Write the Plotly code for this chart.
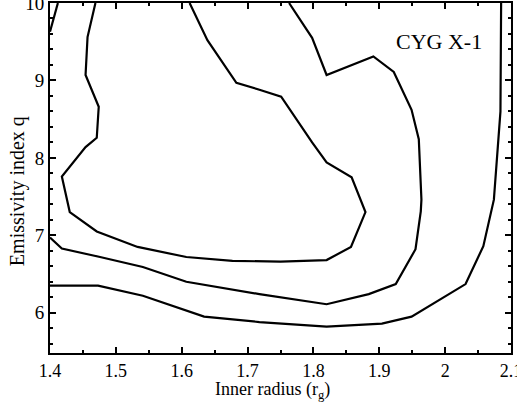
import plotly.graph_objects as go

# Contour data (Inner radius r_g vs emissivity index q)
inner_x = [1.469, 1.457, 1.454, 1.474, 1.471, 1.454, 1.418, 1.430, 1.471, 1.533, 1.607, 1.677, 1.75, 1.82, 1.857, 1.879, 1.858, 1.82, 1.798, 1.751, 1.718, 1.683, 1.639, 1.612]
inner_y = [10.0, 9.56, 9.07, 8.66, 8.26, 8.14, 7.76, 7.30, 7.05, 6.85, 6.72, 6.67, 6.66, 6.68, 6.85, 7.30, 7.75, 7.94, 8.20, 8.79, 8.88, 8.97, 9.52, 10.0]

mid_x = [1.763, 1.798, 1.82, 1.891, 1.922, 1.949, 1.96, 1.964, 1.963, 1.955, 1.925, 1.884, 1.82, 1.718, 1.607, 1.541, 1.476, 1.418, 1.40]
mid_y = [10.0, 9.55, 9.07, 9.31, 9.11, 8.62, 8.24, 7.46, 7.31, 6.82, 6.37, 6.24, 6.11, 6.24, 6.40, 6.59, 6.72, 6.83, 6.97]

outer_x = [1.40, 1.473, 1.541, 1.634, 1.718, 1.82, 1.904, 1.949, 2.031, 2.058, 2.074, 2.077, 2.084, 2.085]
outer_y = [6.35, 6.35, 6.22, 5.95, 5.88, 5.82, 5.86, 5.95, 6.37, 6.86, 7.46, 7.81, 8.60, 10.0]

outer_top_x = [1.412, 1.40]
outer_top_y = [10.0, 9.63]

x_ticks = [1.4, 1.5, 1.6, 1.7, 1.8, 1.9, 2.0, 2.1]
x_tick_labels = ["1.4", "1.5", "1.6", "1.7", "1.8", "1.9", "2", "2.1"]
y_ticks = [6, 7, 8, 9, 10]
y_tick_labels = ["6", "7", "8", "9", "10"]

line_style = dict(color="black", width=2.2)

fig = go.Figure()
for xs, ys in [(inner_x, inner_y), (mid_x, mid_y), (outer_x, outer_y), (outer_top_x, outer_top_y)]:
    fig.add_trace(go.Scatter(x=xs, y=ys, mode="lines", line=line_style,
                             showlegend=False, hoverinfo="skip"))

font_family = "Liberation Serif"

fig.add_annotation(x=1.99, y=9.50, text="CYG X-1", showarrow=False,
                   font=dict(family=font_family, size=22, color="black"))

# Axis titles as annotations for precise placement
fig.add_annotation(xref="paper", yref="paper", x=0.482, y=-0.108,
                   xanchor="center", yanchor="middle", showarrow=False,
                   text="Inner radius (r<sub>g</sub>)",
                   font=dict(family=font_family, size=18, color="black"))
fig.add_annotation(xref="paper", yref="paper", x=-0.069, y=0.463,
                   xanchor="center", yanchor="middle", showarrow=False,
                   textangle=-90, text="Emissivity index q",
                   font=dict(family=font_family, size=20, color="black"))

fig.update_layout(
    width=517, height=406,
    margin=dict(l=50, r=6, t=3, b=53),
    paper_bgcolor="white", plot_bgcolor="white",
    font=dict(family=font_family, color="black", size=16),
)

fig.update_xaxes(
    range=[1.4, 2.1], automargin=False,
    tickvals=x_ticks, ticktext=x_tick_labels,
    ticks="inside", ticklen=6, tickwidth=1.5, tickcolor="black",
    minor=dict(dtick=0.05, tick0=1.4, ticks="inside", ticklen=3, tickcolor="black"),
    showline=True, linecolor="black", linewidth=2, mirror="allticks",
    showgrid=False, zeroline=False, ticklabeloverflow="allow",
    tickfont=dict(family=font_family, size=18),
)
fig.update_yaxes(
    range=[5.48, 10.0], automargin=False,
    tickvals=y_ticks, ticktext=y_tick_labels,
    ticks="inside", ticklen=6, tickwidth=1.5, tickcolor="black",
    minor=dict(dtick=0.2, tick0=6, ticks="inside", ticklen=3, tickcolor="black"),
    showline=True, linecolor="black", linewidth=2, mirror="allticks",
    showgrid=False, zeroline=False, ticklabeloverflow="allow",
    tickfont=dict(family=font_family, size=19),
)

fig.write_html("out.html", config={"displayModeBar": False},
               post_script="document.body.style.margin='0';document.body.style.overflow='hidden';")
